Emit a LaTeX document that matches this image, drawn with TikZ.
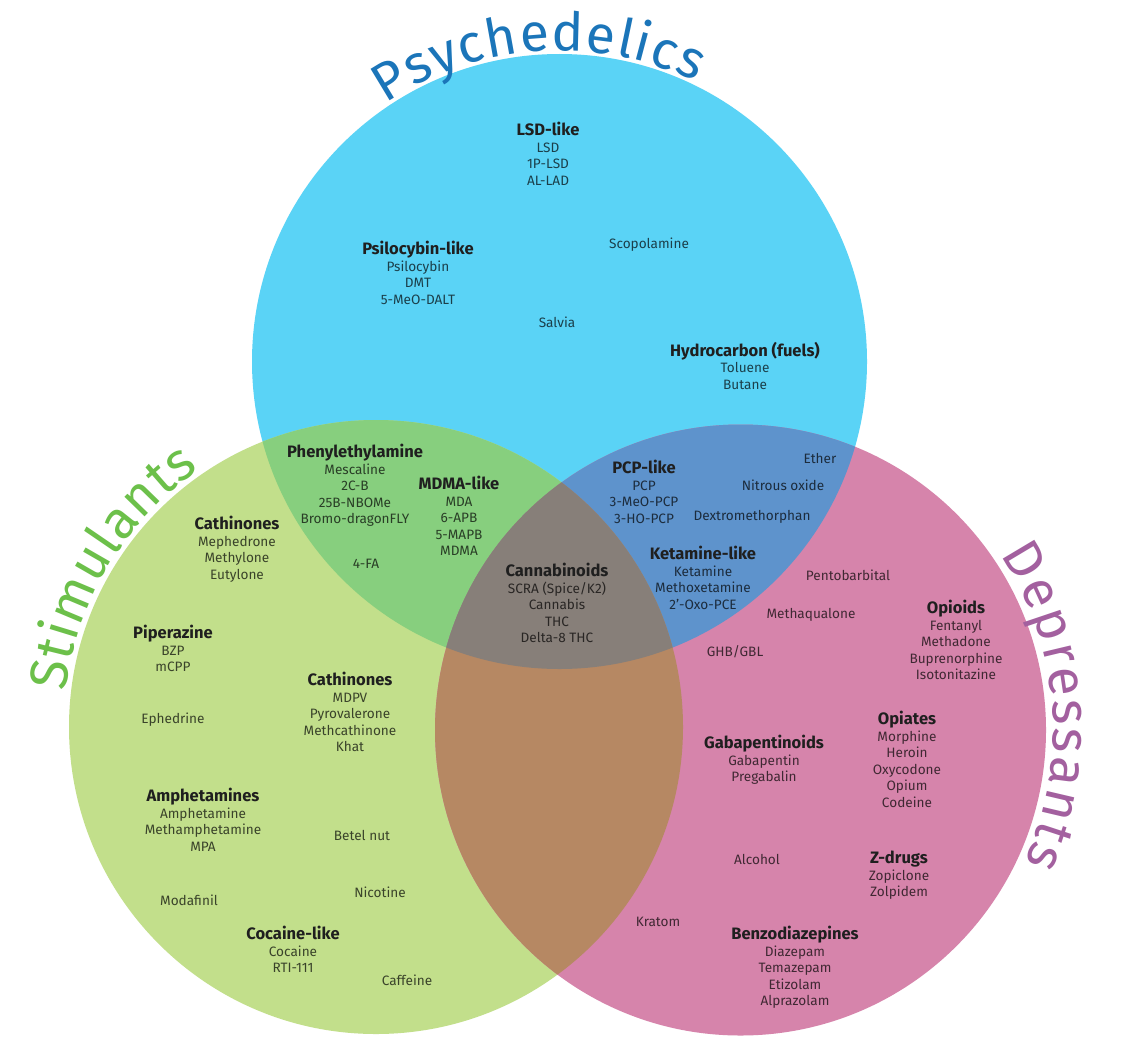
\documentclass[tikz,border=0pt]{standalone}
\usepackage{fontspec}
\setmainfont{Fira Sans}
\usetikzlibrary{decorations.text}
\definecolor{cB}{HTML}{5AD3F6}
\definecolor{cG}{HTML}{C2DF8B}
\definecolor{cP}{HTML}{D684AB}
\definecolor{cBG}{HTML}{87CF7E}
\definecolor{cBP}{HTML}{5E93CC}
\definecolor{cGP}{HTML}{B68863}
\definecolor{cBGP}{HTML}{877F79}
\definecolor{tB}{HTML}{1B75B9}
\definecolor{tG}{HTML}{6CC04A}
\definecolor{tP}{HTML}{A3609F}
\newcommand\itemfont{\fontsize{10.2pt}{12.4pt}\selectfont}
\newcommand\hd[1]{{\color{black!88}\fontsize{12.4pt}{12.4pt}\selectfont\bfseries #1}\\[-0.1pt]}
\begin{document}
\begin{tikzpicture}[x=0.75pt,y=0.75pt,
  grp/.style={anchor=north, align=center, inner sep=0pt, font=\itemfont, text=black!70!#1, yshift=0.75pt},
  one/.style={anchor=base, inner sep=0pt, font=\itemfont, text=black!70!#1},
  ttl/.style 2 args={decorate, decoration={text along path, text align={fit to path},
     text={|\fontsize{40pt}{40pt}\selectfont\color{#1}|#2}}}]
\useasboundingbox (0,0) rectangle (1126,-1056);
\fill[white] (0,0) rectangle (1126,-1056);
\coordinate (cb) at (559.5,-361.5);
\coordinate (cg) at (376,-727);
\coordinate (cp) at (740.5,-730);
% circles and overlaps
\fill[cB] (cb) circle[radius=307.5];
\fill[cG] (cg) circle[radius=307];
\fill[cP] (cp) circle[radius=305.5];
\begin{scope}
  \clip (cb) circle[radius=307.5];
  \fill[cBG] (cg) circle[radius=307];
  \fill[cBP] (cp) circle[radius=305.5];
\end{scope}
\begin{scope}
  \clip (cg) circle[radius=307];
  \fill[cGP] (cp) circle[radius=305.5];
  \clip (cb) circle[radius=307.5];
  \fill[cBGP] (cp) circle[radius=305.5];
\end{scope}
% titles
\path[ttl={tB}{Psychedelics}] (cb) ++(124:311) arc[start angle=124, end angle=64, radius=311];
\path[ttl={tG}{Stimulants}] (cg) ++(173.5:312) arc[start angle=173.5, end angle=124.5, radius=312];
\path[ttl={tP}{Depressants}] (cp) ++(34:313) arc[start angle=34, end angle=-25, radius=313];
% psychedelics
\node[grp=cB] (lsd) at (548,-123) {\hd{LSD-like}LSD\\1P-LSD\\AL-LAD};
\node[grp=cB] (psi) at (418,-242) {\hd{Psilocybin-like}Psilocybin\\DMT\\5-MeO-DALT};
\node[one=cB] (scop) at (649,-248) {Scopolamine};
\node[one=cB] (salv) at (557,-327) {Salvia};
\node[grp=cB] (hyd) at (745,-343) {\hd{Hydrocarbon (fuels)}Toluene\\Butane};
% psychedelic + stimulant
\node[grp=cBG] (phen) at (355,-445) {\hd{Phenylethylamine}Mescaline\\2C-B\\25B-NBOMe\\Bromo-dragonFLY};
\node[grp=cBG] (mdma) at (459,-477) {\hd{MDMA-like}MDA\\6-APB\\5-MAPB\\MDMA};
\node[one=cBG] (fa) at (366,-568) {4-FA};
% psychedelic + depressant
\node[grp=cBP] (pcp) at (644,-461) {\hd{PCP-like}PCP\\3-MeO-PCP\\3-HO-PCP};
\node[one=cBP] (ether) at (820,-463) {Ether};
\node[one=cBP] (nitro) at (783,-490) {Nitrous oxide};
\node[one=cBP] (dxm) at (752,-520) {Dextromethorphan};
\node[grp=cBP] (ket) at (703,-547) {\hd{Ketamine-like}Ketamine\\Methoxetamine\\2'-Oxo-PCE};
% centre
\node[grp=cBGP] (cann) at (557,-564) {\hd{Cannabinoids}SCRA (Spice/K2)\\Cannabis\\THC\\Delta-8 THC};
% stimulants
\node[grp=cG] (cath1) at (237,-517) {\hd{Cathinones}Mephedrone\\Methylone\\Eutylone};
\node[grp=cG] (pip) at (173,-626) {\hd{Piperazine}BZP\\mCPP};
\node[one=cG] (eph) at (173,-723) {Ephedrine};
\node[grp=cG] (cath2) at (350,-673) {\hd{Cathinones}MDPV\\Pyrovalerone\\Methcathinone\\Khat};
\node[grp=cG] (amph) at (203,-789) {\hd{Amphetamines}Amphetamine\\Methamphetamine\\MPA};
\node[one=cG] (betel) at (362,-840) {Betel nut};
\node[one=cG] (moda) at (189,-905) {Modafinil};
\node[one=cG] (nico) at (380,-897) {Nicotine};
\node[grp=cG] (coc) at (293,-927) {\hd{Cocaine-like}Cocaine\\RTI-111};
\node[one=cG] (caff) at (407,-985) {Caffeine};
% depressants
\node[one=cP] (pento) at (848,-580) {Pentobarbital};
\node[one=cP] (metq) at (811,-618) {Methaqualone};
\node[one=cP] (ghb) at (735,-656) {GHB/GBL};
\node[grp=cP] (opioid) at (956,-601) {\hd{Opioids}Fentanyl\\Methadone\\Buprenorphine\\Isotonitazine};
\node[grp=cP] (gaba) at (764,-736) {\hd{Gabapentinoids}Gabapentin\\Pregabalin};
\node[grp=cP] (opiate) at (907,-712) {\hd{Opiates}Morphine\\Heroin\\Oxycodone\\Opium\\Codeine};
\node[one=cP] (alc) at (757,-864) {Alcohol};
\node[grp=cP] (zd) at (899,-852) {\hd{Z-drugs}Zopiclone\\Zolpidem};
\node[one=cP] (krat) at (658,-926) {Kratom};
\node[grp=cP] (benzo) at (795,-927) {\hd{Benzodiazepines}Diazepam\\Temazepam\\Etizolam\\Alprazolam};
\end{tikzpicture}
\end{document}
